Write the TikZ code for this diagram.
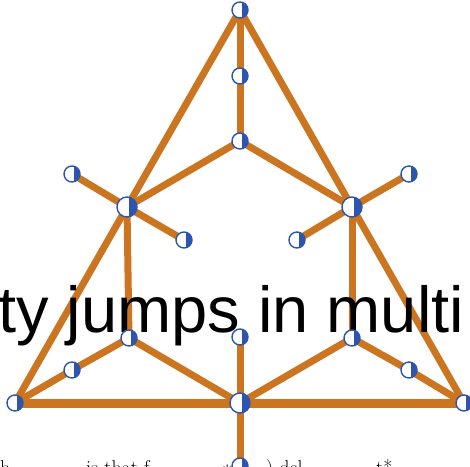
\documentclass[tikz,border=0pt]{standalone}
\usepackage{fontspec}
\newfontfamily\arial{Liberation Sans}
\pgfdeclarelayer{background}
\pgfsetlayers{background,main}
\begin{document}
\begin{tikzpicture}[x=1pt,y=-1pt]
\definecolor{edgeor}{RGB}{204,117,32}
\definecolor{nblue}{RGB}{45,85,175}
\tikzset{
 v/.style={circle, draw=nblue, fill=white, line width=1.4pt, inner sep=0pt, minimum size=16pt,
   path picture={\fill[nblue] ([xshift=1.5pt]path picture bounding box.north) rectangle (path picture bounding box.south east);}},
 vb/.style={v, minimum size=20pt},
 e/.style={draw=edgeor, line width=7pt, line join=round},
 eb/.style={e, line width=9pt},
 bigtxt/.style={anchor=base west, inner sep=0pt, font=\arial\fontsize{65}{65}\selectfont},
 smalltxt/.style={anchor=base west, inner sep=0pt, font=\fontsize{20}{20}\selectfont},
}
\useasboundingbox (0,0) rectangle (470,466);
\clip (0,0) rectangle (470,466);
% text
\node[bigtxt] (big) at (-2,332) {ty jumps in multi};
\node[smalltxt] (s1) at (0,474) {h};
\node[smalltxt] (s2) at (86,474) {is that f};
\node[smalltxt] (s3) at (222,474) {$*?\backslash$};
\node[smalltxt] (s4) at (266,474) {) del};
\node[smalltxt] (s5) at (376,474) {t*};
% nodes
\node[v] (T) at (240,10) {};
\node[v] (A) at (240,76) {};
\node[v] (B) at (240,141) {};
\node[vb] (L) at (127,207) {};
\node[vb] (R) at (352,207) {};
\node[v] (Lout) at (72,174) {};
\node[v] (Lin) at (184,240) {};
\node[v] (Rin) at (297,240) {};
\node[v] (Rout) at (409,174) {};
\node[v] (Lmid) at (129,338) {};
\node[v] (Cmid) at (240,337) {};
\node[v] (Rmid) at (352,338) {};
\node[v] (LL) at (72,370) {};
\node[v] (RR) at (409,370) {};
\node[v] (BL) at (15,403) {};
\node[vb] (BC) at (240,403) {};
\node[v] (BR) at (464,403) {};
\node[v] (Bot) at (240,466) {};
% edges
\begin{pgfonlayer}{background}
\draw[e] (T.center) -- (L.center) -- (BL.center);
\draw[e] (T.center) -- (R.center) -- (BR.center);
\draw[eb] (BL.center) -- (BC.center) -- (BR.center);
\draw[e] (T.center) -- (A.center) -- (B.center);
\draw[e] (L.center) -- (B.center) -- (R.center);
\draw[e] (Lout.center) -- (L.center) -- (Lin.center);
\draw[e] (Rout.center) -- (R.center) -- (Rin.center);
\draw[e] (L.center) -- (Lmid.center);
\draw[e] (R.center) -- (Rmid.center);
\draw[e] (BL.center) -- (LL.center) -- (Lmid.center) -- (BC.center);
\draw[e] (BR.center) -- (RR.center) -- (Rmid.center) -- (BC.center);
\draw[e] (Cmid.center) -- (BC.center) -- (Bot.center);
\end{pgfonlayer}
\end{tikzpicture}
\end{document}
